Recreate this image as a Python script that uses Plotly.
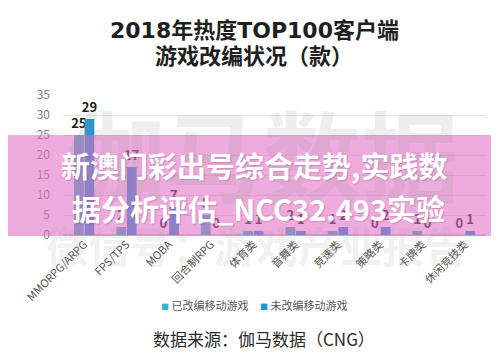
import plotly.graph_objects as go

# ---- data ----
categories = ["MMORPG/ARPG", "FPS/TPS", "MOBA", "回合制RPG", "体育类",
              "音舞类", "竞速类", "策略类", "卡牌类", "休闲竞技类"]
adapted = [25, 2, 0, 5, 1, 2, 1, 0, 1, 0]          # 已改编移动游戏
not_adapted = [29, 17, 7, 0, 1, 1, 2, 2, 0, 1]      # 未改编移动游戏
series_names = ["已改编移动游戏", "未改编移动游戏"]
y_ticks = [0, 5, 10, 15, 20, 25, 30, 35]

title_lines = ["2018年热度TOP100客户端", "游戏改编状况（款）"]
source_text = "数据来源：伽马数据（CNG）"
watermark_1 = "伽马数据"
watermark_2 = "微信号：游戏产业报告"
overlay_lines = ["新澳门彩出号综合走势,实践数", "据分析评估_NCC32.493实验"]

# ---- style ----
W, H = 499, 356
L, R, T, B = 55, 21, 87, 129
colors = ["#3BB3C8", "#1E96D4"]
FONT = "Noto Sans CJK SC"
TITLE_FONT = "DejaVu Sans, Noto Sans CJK SC"


def px(x):
    return (x - L) / (W - L - R)


def py(y):
    return (H - B - y) / (H - T - B)


def note(x, y, text, font, xanchor="center"):
    return dict(x=px(x), y=py(y), xref="paper", yref="paper", text=text,
                showarrow=False, xanchor=xanchor, yanchor="middle", font=font)


fig = go.Figure()
for name, vals, col in zip(series_names, [adapted, not_adapted], colors):
    fig.add_trace(go.Bar(
        name=name, x=categories, y=vals, marker=dict(color=col, line_width=0),
        text=vals, textposition="outside", constraintext="none", cliponaxis=False,
        textfont=dict(family=FONT, size=13, color="#1a1a1a", weight="bold"),
        showlegend=False,
    ))

annotations = [
    # watermarks
    note(255, 143, watermark_1,
         dict(family=FONT, size=98, color="rgba(150,150,150,0.16)", weight="bold")),
    note(248, 236, watermark_2,
         dict(family=FONT, size=42, color="rgba(150,150,150,0.14)", weight="bold")),
    # title
    note(246, 22, title_lines[0], dict(family=TITLE_FONT, size=22, color="#1f1f1f", weight="bold")),
    note(246, 48, title_lines[1], dict(family=TITLE_FONT, size=22, color="#1f1f1f", weight="bold")),
    # source
    note(256, 330, source_text, dict(family=FONT, size=17, color="#2a2a2a")),
]
# legend
for lx, name, col in zip([151, 250], series_names, colors):
    annotations.append(note(
        lx, 297, f'<span style="color:{col};font-size:8px">■</span> {name}',
        dict(family=FONT, size=11, color="#555555"), xanchor="left"))
# overlay text
for (cx, cy), line in zip([(246, 157), (250, 200)], overlay_lines):
    annotations.append(note(
        cx, cy, line,
        dict(family=FONT, size=29, color="white", weight="bold",
             shadow="1px 1px 1px rgba(120,50,100,0.25)")))

shapes = [dict(type="rect", xref="paper", yref="paper",
               x0=px(0), x1=px(W), y0=py(228), y1=py(127),
               fillcolor="rgba(226,110,196,0.58)", line_width=0, layer="above")]

fig.update_layout(
    width=W, height=H, margin=dict(l=L, r=R, t=T, b=B),
    paper_bgcolor="white", plot_bgcolor="white",
    barmode="group", bargap=0.5, bargroupgap=0.08,
    font=dict(family=FONT),
    annotations=annotations, shapes=shapes,
    xaxis=dict(type="category", tickangle=-45, showgrid=False, showline=False,
               ticks="", tickfont=dict(family=FONT, size=11, color="#555555")),
    yaxis=dict(range=[0, 35], tickvals=y_ticks, showgrid=True, gridcolor="#e3e3e3",
               gridwidth=1, zeroline=True, zerolinecolor="#d0d0d0", showline=False,
               ticklabelstandoff=12, tickfont=dict(family=FONT, size=12, color="#808080")),
)

fig.write_html("out.html")
